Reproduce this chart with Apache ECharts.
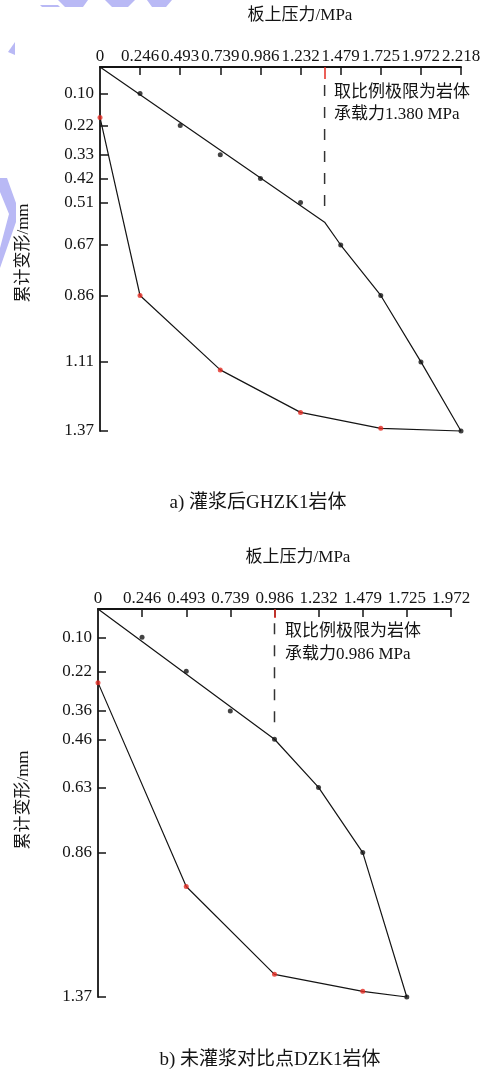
<!DOCTYPE html>
<html><head><meta charset="utf-8">
<script src="https://cdn.jsdelivr.net/npm/echarts@6/dist/echarts.min.js"></script>
<style>html,body{margin:0;padding:0;background:#fff}#c{width:492px;height:1071px}</style>
</head><body><div id="c"></div>
<script>
// ---------- a) 灌浆后GHZK1岩体 ----------
const xTickLabelsA = ['0','0.246','0.493','0.739','0.986','1.232','1.479','1.725','1.972','2.218'];
const yTickLabelsA = ['0.10','0.22','0.33','0.42','0.51','0.67','0.86','1.11','1.37'];
const loadPressureA = [0.246,0.493,0.739,0.986,1.232,1.479,1.725,1.972,2.218];
const loadDeformA   = [0.10,0.22,0.33,0.42,0.51,0.67,0.86,1.11,1.37];
const fitPressureA  = [0,1.38,1.479,1.725,1.972,2.218];
const fitDeformA    = [0,0.584,0.67,0.86,1.11,1.37];
const unloadPressureA = [2.218,1.725,1.232,0.739,0.246,0];
const unloadDeformA   = [1.37,1.36,1.30,1.14,0.86,0.19];
const limitA = 1.380;
const limitDashA = [0.068,0.556];

// ---------- b) 未灌浆对比点DZK1岩体 ----------
const xTickLabelsB = ['0','0.246','0.493','0.739','0.986','1.232','1.479','1.725','1.972'];
const yTickLabelsB = ['0.10','0.22','0.36','0.46','0.63','0.86','1.37'];
const loadPressureB = [0.246,0.493,0.739,0.986,1.232,1.479,1.725];
const loadDeformB   = [0.10,0.22,0.36,0.46,0.63,0.86,1.37];
const fitPressureB  = [0,0.986,1.232,1.479,1.725];
const fitDeformB    = [0,0.46,0.63,0.86,1.37];
const unloadPressureB = [1.725,1.479,0.986,0.493,0];
const unloadDeformB   = [1.37,1.35,1.29,0.98,0.26];
const limitB = 0.986;
const limitDashB = [0.05,0.437];

// ---------- texts ----------
const xName = '板上压力/MPa';
const yName = '累计变形/mm';
const noteLine1 = '取比例极限为岩体';
const noteA = '承载力1.380 MPa';
const noteB = '承载力0.986 MPa';
const captionA = 'a) 灌浆后GHZK1岩体';
const captionB = 'b) 未灌浆对比点DZK1岩体';

const FONT = "'Liberation Serif','Noto Sans CJK SC',serif";
const INK = '#141414';
const RED = '#e42b22';

function zip(xs, ys){ return xs.map((x,i)=>[x, ys[i]]); }
function fmt(labels){
  const vals = labels.map(Number);
  return v => { const i = vals.findIndex(u => Math.abs(u - v) < 1e-9); return i >= 0 ? labels[i] : ''; };
}

function mainX(grid, labels){
  const vals = labels.map(Number);
  return {
    type:'value', gridIndex:grid, position:'top', min:0, max:vals[vals.length-1],
    axisLine:{show:true, onZero:false, lineStyle:{color:INK, width:1.8}},
    axisTick:{show:true, inside:true, length:8, customValues:vals.slice(1), lineStyle:{color:INK, width:1.5}},
    axisLabel:{show:true, margin:2, customValues:vals, formatter:fmt(labels), color:INK, fontFamily:FONT, fontSize:17},
    splitLine:{show:false}
  };
}
function redTickX(grid, labels, v, len){
  const vals = labels.map(Number);
  return {
    type:'value', gridIndex:grid, position:'top', min:0, max:vals[vals.length-1],
    axisLine:{show:false}, axisLabel:{show:false}, splitLine:{show:false},
    axisTick:{show:true, inside:true, length:len, customValues:[v], lineStyle:{color:RED, width:1.5}}
  };
}
function mainY(grid, labels){
  const vals = labels.map(Number);
  return {
    type:'value', gridIndex:grid, inverse:true, min:0, max:vals[vals.length-1],
    axisLine:{show:true, onZero:false, lineStyle:{color:INK, width:1.8}},
    axisTick:{show:true, inside:true, length:8, customValues:vals, lineStyle:{color:INK, width:1.5}},
    axisLabel:{show:true, margin:6, customValues:vals, formatter:fmt(labels), color:INK, fontFamily:FONT, fontSize:17},
    splitLine:{show:false}
  };
}

function seriesFor(xi, yi, fitX, fitY, ldX, ldY, unX, unY, lim, dash){
  return [
    {type:'line', xAxisIndex:xi, yAxisIndex:yi, data:zip(fitX, fitY), showSymbol:false, clip:false,
     lineStyle:{color:INK, width:1.2}, z:3},
    {type:'line', xAxisIndex:xi, yAxisIndex:yi, data:zip(unX, unY), showSymbol:false, clip:false,
     lineStyle:{color:INK, width:1.2}, z:3},
    {type:'line', xAxisIndex:xi, yAxisIndex:yi, data:dash.map(d=>[lim, d]), showSymbol:false, clip:false,
     lineStyle:{color:'#333', width:1.5, type:[11,11]}, z:2},
    {type:'scatter', xAxisIndex:xi, yAxisIndex:yi, data:zip(ldX, ldY), symbolSize:5, clip:false,
     itemStyle:{color:INK}, z:4},
    {type:'scatter', xAxisIndex:xi, yAxisIndex:yi, data:zip(unX.slice(1), unY.slice(1)), symbolSize:5, clip:false,
     itemStyle:{color:RED}, z:5}
  ];
}

function txt(x, y, text, size, align, rot){
  return {type:'text', x:x, y:y, rotation:rot||0, z:10,
    style:{text:text, x:0, y:0, fill:INK, font:size+'px '+FONT, textAlign:align||'center', textVerticalAlign:'middle'}};
}
const WM = '#b9b9f5';
function poly(pts){ return {type:'polygon', shape:{points:pts}, style:{fill:WM}, z:0, silent:true}; }

const chart = echarts.init(document.getElementById('c'), null, {renderer:'canvas'});
chart.setOption({
  animation:false,
  backgroundColor:'#ffffff',
  grid:[
    {left:100, top:67, width:361, height:364, outerBoundsMode:'none', containLabel:false},
    {left:98, top:609, width:353, height:388, outerBoundsMode:'none', containLabel:false}
  ],
  xAxis:[ mainX(0, xTickLabelsA), redTickX(0, xTickLabelsA, limitA, 12),
          mainX(1, xTickLabelsB), redTickX(1, xTickLabelsB, limitB, 9) ],
  yAxis:[ mainY(0, yTickLabelsA), mainY(1, yTickLabelsB) ],
  series:[].concat(
    seriesFor(0, 0, fitPressureA, fitDeformA, loadPressureA, loadDeformA, unloadPressureA, unloadDeformA, limitA, limitDashA),
    seriesFor(2, 1, fitPressureB, fitDeformB, loadPressureB, loadDeformB, unloadPressureB, unloadDeformB, limitB, limitDashB)
  ),
  graphic:[
    poly([[40,5],[58,5],[60,7],[42,7]]),
    poly([[58,0],[88,0],[83,7],[65,7]]),
    poly([[105,0],[135,0],[128,7],[112,7]]),
    poly([[147,0],[172,0],[166,7],[152,7]]),
    poly([[15,42],[15,55],[8,52]]),
    poly([[0,178],[7,178],[16,203],[16,222],[0,268],[0,248],[9,214],[0,192]]),
    txt(300, 16, xName, 17),
    txt(24, 253, yName, 17, 'center', Math.PI/2),
    txt(334, 93, noteLine1, 17, 'left'),
    txt(334, 115, noteA, 17, 'left'),
    txt(258, 503, captionA, 19),
    txt(298, 558, xName, 17),
    txt(24, 800, yName, 17, 'center', Math.PI/2),
    txt(285, 632, noteLine1, 17, 'left'),
    txt(285, 655, noteB, 17, 'left'),
    txt(270, 1060, captionB, 19)
  ]
});
</script></body></html>
